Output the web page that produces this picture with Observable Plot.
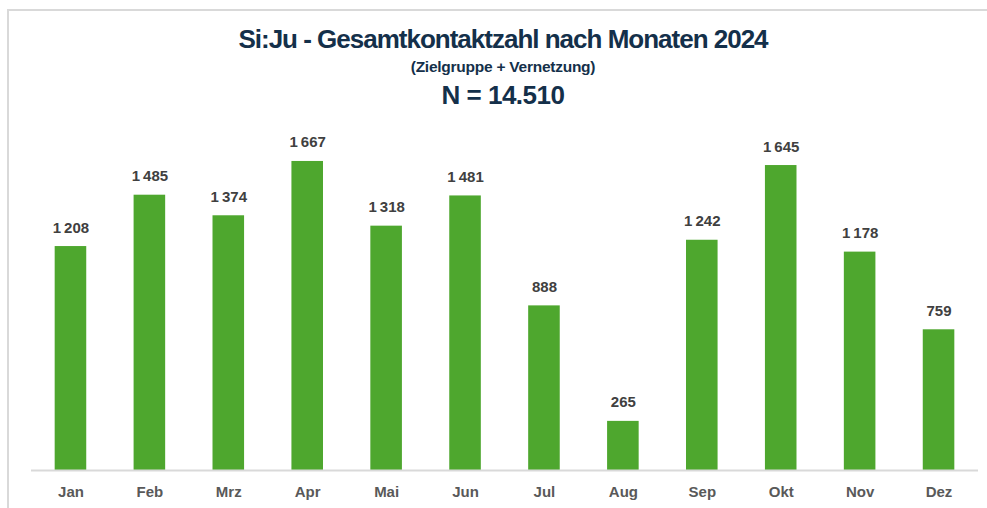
<!DOCTYPE html>
<html>
<head>
<meta charset="utf-8">
<script src="https://cdn.jsdelivr.net/npm/d3@7"></script>
<script src="https://cdn.jsdelivr.net/npm/@observablehq/plot@0.6"></script>
<style>
  html, body { margin: 0; padding: 0; background: #fff; }
  #wrap { position: relative; width: 987px; height: 508px; overflow: hidden; font-family: "Liberation Sans", Arial, sans-serif; }
  #frame { position: absolute; left: 7px; top: 9px; width: 990px; height: 510px; border-top: 2px solid #d9d9d9; border-left: 2px solid #d9d9d9; box-sizing: border-box; }
  .t { position: absolute; left: 0; width: 1006px; text-align: center; font-weight: bold; color: #14304a; white-space: nowrap; }
  #title { top: 24px; font-size: 26px; letter-spacing: -1.0px; }
  #sub { top: 58px; font-size: 15.5px; letter-spacing: -0.25px; }
  #n { top: 80px; font-size: 26px; letter-spacing: -0.5px; }
  #chart { position: absolute; left: 0; top: 0; }
</style>
</head>
<body>
<div id="wrap">
  <div id="frame"></div>
  <div class="t" id="title">Si:Ju - Gesamtkontaktzahl nach Monaten 2024</div>
  <div class="t" id="sub">(Zielgruppe + Vernetzung)</div>
  <div class="t" id="n">N = 14.510</div>
  <div id="chart"></div>
</div>
<script>
const months = ["Jan","Feb","Mrz","Apr","Mai","Jun","Jul","Aug","Sep","Okt","Nov","Dez"];
const counts = [1208,1485,1374,1667,1318,1481,888,265,1242,1645,1178,759];

const data = months.map((m, i) => ({month: m, value: counts[i]}));
const fmt = d3.formatLocale({decimal: ",", thousands: "\u2009", grouping: [3], currency: ["", "€"]}).format(",d");

const chart = Plot.plot({
  width: 987,
  height: 508,
  marginLeft: 31,
  marginRight: 9,
  marginTop: 130,
  marginBottom: 38,
  style: {fontFamily: "'Liberation Sans', Arial, sans-serif", background: "transparent", overflow: "visible"},
  x: {domain: months, paddingInner: 0.6, paddingOuter: 0.3, round: false, label: null},
  y: {domain: [0, 1834], axis: null},
  marks: [
    Plot.barY(data, {x: "month", y: "value", fill: "#4ea72e"}),
    Plot.ruleY([0], {stroke: "#d9d9d9", strokeWidth: 2}),
    Plot.text(data, {x: "month", y: "value", text: d => fmt(d.value), lineAnchor: "bottom", dy: -14, fontSize: 15, fontWeight: "bold", fill: "#404040"}),
    Plot.axisX({tickSize: 0, tickPadding: 16, fontSize: 15, fontWeight: "bold", color: "#595959", label: null})
  ]
});
document.getElementById("chart").appendChild(chart);
</script>
</body>
</html>
